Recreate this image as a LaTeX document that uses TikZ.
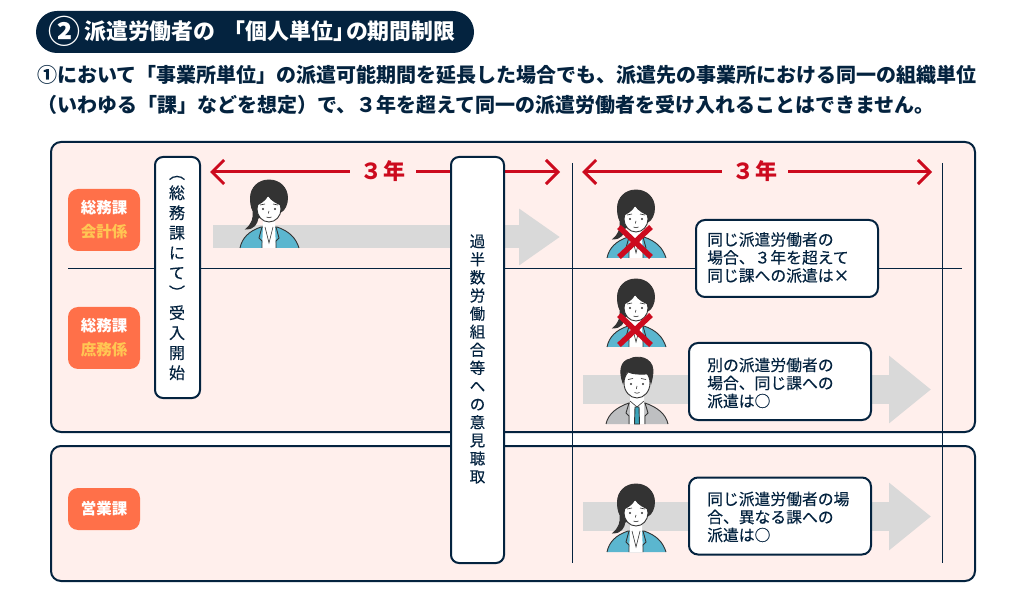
\documentclass[tikz,border=0pt]{standalone}
\usepackage{fontspec}
\setmainfont{Noto Sans CJK JP}
\newfontfamily\medfont[FakeBold=0.25]{Noto Sans CJK JP}
\usetikzlibrary{arrows.meta}
\definecolor{navy}{HTML}{04233F}
\definecolor{panelbg}{HTML}{FFEFEC}
\definecolor{tagbg}{HTML}{FF7049}
\definecolor{tagyellow}{HTML}{FFC653}
\definecolor{markred}{HTML}{CC0A1E}
\definecolor{bandgray}{HTML}{D9D9D9}
\definecolor{hairdark}{HTML}{333333}
\definecolor{suitteal}{HTML}{5BB6CF}
\definecolor{suitgray}{HTML}{BEBFC1}
\definecolor{tieteal}{HTML}{3AA3B8}
\tikzset{
    panel/.style={draw=navy,line width=2pt,fill=panelbg,rounded corners=10pt,minimum width=924pt,inner sep=0pt},
    tagbox/.style={fill=tagbg,rounded corners=10pt,minimum width=72pt,inner sep=0pt,text=white,align=center,
        font=\fontsize{15.5}{24}\selectfont\bfseries},
    vbox/.style={draw=navy,line width=2pt,fill=white,rounded corners=8pt,inner sep=0pt},
    vtext/.style={text=navy,align=center,inner sep=0pt},
    callout/.style={draw=navy,line width=2pt,fill=white,rounded corners=9pt,minimum width=182pt,minimum height=77pt,inner sep=0pt},
    callouttext/.style={text=navy,align=left,anchor=west,inner sep=0pt,font=\fontsize{15.8}{18}\medfont},
    rule/.style={draw=navy,line width=1pt},
    spanarrow/.style={draw=markred,line width=3pt,-{Straight Barb[length=12pt,width=24pt,line width=3pt]}},
    spanlabel/.style={text=markred,minimum width=66pt,inner sep=0pt,font=\fontsize{22}{24}\selectfont\bfseries},
    bandarrow/.style={draw=bandgray,-{Triangle[length=42pt,width=65pt,fill=bandgray]}},
    figline/.style={draw=hairdark,line width=0.9pt},
    woman/.pic={
        \draw[figline,fill=suitteal] (-29,0) .. controls (-27,-10) and (-20,-17) .. (-8,-21) -- (8,-21) .. controls (20,-17) and (27,-10) .. (30,0);
        \draw[figline,fill=hairdark] (0,-68) .. controls (11,-68) and (18.5,-60) .. (18.5,-50) .. controls (18.5,-44) and (16,-38) .. (12,-36) -- (-11,-30) .. controls (-12,-24) and (-15,-19) .. (-23,-19) .. controls (-17,-24) and (-15,-30) .. (-16,-37) .. controls (-18,-41) and (-18.5,-45) .. (-18.5,-50) .. controls (-18.5,-60) and (-11,-68) .. (0,-68) -- cycle;
        \fill[white] (-6,-29) -- (6,-29) -- (6,-21) -- (7,0) -- (-7,0) -- (-6,-21) -- cycle;
        \draw[figline] (-7,-21) -- (-10,-10) -- (-7,-7) -- (-7,0);
        \draw[figline] (7,-21) -- (10,-10) -- (7,-7) -- (7,0);
        \draw[figline,line width=0.6pt] (-4,-21) -- (0,-5) -- (4,-21);
        \draw[figline,fill=white] (0,-39) ellipse (12pt and 13pt);
        \fill[hairdark] (-13,-42) .. controls (-9,-44) and (-3,-47) .. (-1,-52) .. controls (2,-47) and (8,-44) .. (13,-42) -- (17,-52) .. controls (12,-66) and (-12,-66) .. (-17,-52) -- cycle;
        \fill[hairdark] (-6,-39) circle (1.2pt) (6,-39) circle (1.2pt);
        \draw[figline,line width=0.6pt] (-9,-43) -- (-4,-44) (9,-43) -- (4,-44) (0,-37) -- (-0.7,-34.5) (-2.5,-31) .. controls (-1,-30) and (1,-30) .. (2.5,-31);
    },
    man/.pic={
        \draw[figline,fill=suitgray] (-31,0) .. controls (-29,-10) and (-20,-17) .. (-8,-21) -- (8,-21) .. controls (20,-17) and (29,-10) .. (31,0);
        \fill[white] (-7,-29) -- (7,-29) -- (7,-21) -- (7,0) -- (-7,0) -- (-7,-21) -- cycle;
        \draw[figline] (-8,-21) -- (-11,-11) -- (-8,-8) -- (-8,0);
        \draw[figline] (8,-21) -- (11,-11) -- (8,-8) -- (8,0);
        \draw[figline,fill=tieteal] (-2,-17) -- (2,-17) -- (2.5,0) -- (-2.5,0) -- cycle;
        \draw[figline,line width=0.6pt] (-7,-23) -- (0,-17) -- (7,-23);
        \draw[figline,fill=white] (0,-41) ellipse (13pt and 15pt);
        \draw[figline,fill=hairdark] (-14,-41) .. controls (-18,-52) and (-17,-63) .. (-7,-65) .. controls (0,-69) and (15,-67) .. (16,-54) .. controls (16,-49) and (15,-45) .. (14,-41) .. controls (13,-45) and (12.5,-48) .. (11,-50) .. controls (5,-50) and (-5,-49) .. (-10,-53) .. controls (-12,-49) and (-13,-45) .. (-14,-41) -- cycle;
        \fill[hairdark] (-6,-40) circle (1.2pt) (6,-40) circle (1.2pt);
        \draw[figline,line width=0.6pt] (-9,-44.5) -- (-4,-45.5) (9,-44.5) -- (4,-45.5) (0,-38) -- (-0.7,-35) (-2.5,-31.5) .. controls (-1,-30.5) and (1,-30.5) .. (2.5,-31.5);
    },
    crossout/.pic={
        \draw[draw=markred,line width=5.5pt] (-16,-15) -- (16,15) (-16,15) -- (16,-15);
    }
}
\begin{document}
\begin{tikzpicture}[x=1pt,y=-1pt]
    \useasboundingbox (0,0) rectangle (1025,593);

    \node[fill=navy,rounded corners=21pt,minimum width=438pt,minimum height=42pt,inner sep=0pt] (titlebar) at (255,32) {};
    \node[text=white,inner sep=0pt,font=\fontsize{32}{32}\selectfont\bfseries] (titlenum) at (64,31) {②};
    \node[text=white,anchor=west,inner sep=0pt,font=\fontsize{21.9}{24}\selectfont\bfseries] (titletext) at (84,31) {派遣労働者の\hspace{8pt}「個人単位」\hspace{-9pt}の期間制限};
    \node[text=navy,anchor=west,inner sep=0pt,font=\fontsize{20}{24}\selectfont\bfseries] (leadone) at (37,75) {①において「事業所単位」の派遣可能期間を延長した場合でも、派遣先の事業所における同一の組織単位};
    \node[text=navy,anchor=west,inner sep=0pt,font=\fontsize{20}{24}\selectfont\bfseries] (leadtwo) at (37,105) {（いわゆる「課」などを想定）で、３年を超えて同一の派遣労働者を受け入れることはできません。};

    \node[panel,minimum height=290pt] (panelgeneral) at (513,287) {};
    \node[panel,minimum height=135pt] (panelsales) at (513,513.5) {};

    \foreach \n\y\h\t in {
        tagaccount/220/62/{総務課\\\textcolor{tagyellow}{会計係}},
        tagclerk/338/62/{総務課\\\textcolor{tagyellow}{庶務係}},
        tagsales/509/42/{営業課}}{
      \node[tagbox,minimum height=\h pt] (\n) at (104,\y) {\t};
    }

    \coordinate (ruleL) at (68,269);
    \coordinate (ruleR) at (962,269);
    \coordinate (splitAtop) at (572,163);
    \coordinate (splitAend) at (572,563);
    \coordinate (splitBtop) at (942,163);
    \coordinate (splitBend) at (942,563);
    \draw[rule] (ruleL) -- (ruleR);
    \draw[rule] (splitAtop) -- (splitAend);
    \draw[rule] (splitBtop) -- (splitBend);

    \coordinate (bandAs) at (213,237);
    \coordinate (bandAe) at (560,237);
    \coordinate (bandBs) at (583,389.5);
    \coordinate (bandBe) at (931,389.5);
    \coordinate (bandCs) at (583,516.5);
    \coordinate (bandCe) at (931,516.5);
    \draw[bandarrow,line width=23pt,-{Triangle[length=41pt,width=54pt,fill=bandgray]}] (bandAs) -- (bandAe);
    \draw[bandarrow,line width=29pt] (bandBs) -- (bandBe);
    \draw[bandarrow,line width=29pt] (bandCs) -- (bandCe);

    \node[spanlabel] (spanA) at (383,171) {３\hspace{2pt}年};
    \node[spanlabel] (spanB) at (755,171) {３\hspace{2pt}年};
    \coordinate (spanAl) at (210,172);
    \coordinate (spanAr) at (560,172);
    \coordinate (spanBl) at (582,172);
    \coordinate (spanBr) at (932,172);
    \draw[spanarrow] (spanA.west |- spanAl) -- (spanAl);
    \draw[spanarrow] (spanA.east |- spanAr) -- (spanAr);
    \draw[spanarrow] (spanB.west |- spanBl) -- (spanBl);
    \draw[spanarrow] (spanB.east |- spanBr) -- (spanBr);

    \node[vbox,minimum width=45pt,minimum height=241pt] (acceptbox) at (177.5,277.5) {};
    \node[vtext,font=\fontsize{16}{20}\medfont] (accepttext) at (177,278) {︵\\総\\務\\課\\に\\て\\︶\\受\\入\\開\\始};
    \node[vbox,minimum width=53pt,minimum height=406pt] (hearbox) at (477.5,360) {};
    \node[vtext,font=\fontsize{15.5}{18.1}\medfont] (heartext) at (477.5,359) {過\\半\\数\\労\\働\\組\\合\\等\\へ\\の\\意\\見\\聴\\取};

    \foreach \x\y in {269/248,636/258,636/347,636/552}{
      \pic at (\x,\y) {woman};
    }
    \pic at (637,424) {man};
    \pic at (635,242) {crossout};
    \pic at (635,330) {crossout};

    \node[callout] (noteA) at (787,258.5) {};
    \node[callouttext] (noteAtext) at (707,257.5) {同じ派遣労働者の\\場合、３年を超えて\\同じ課への派遣は×};
    \node[callout] (noteB) at (780,381.5) {};
    \node[callouttext] (noteBtext) at (707,383) {別の派遣労働者の\\場合、同じ課への\\派遣は○};
    \node[callout] (noteC) at (780,516) {};
    \node[callouttext] (noteCtext) at (707,517) {同じ派遣労働者の場\\合、異なる課への\\派遣は○};
\end{tikzpicture}
\end{document}
